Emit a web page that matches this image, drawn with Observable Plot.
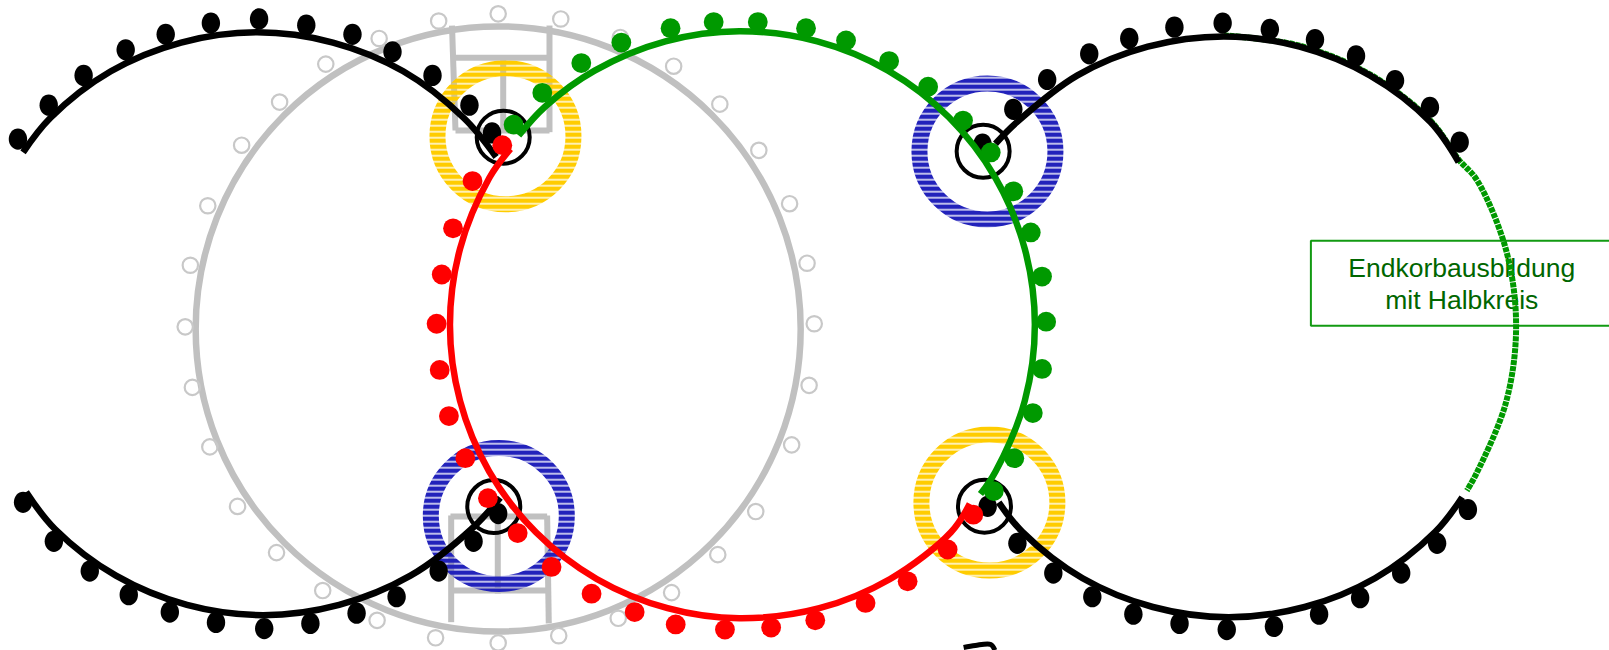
<!DOCTYPE html>
<html><head><meta charset="utf-8">
<style>html,body{margin:0;padding:0;background:#fff;overflow:hidden}</style>
<script src="https://cdn.jsdelivr.net/npm/d3@7"></script>
<script src="https://cdn.jsdelivr.net/npm/@observablehq/plot@0.6"></script>
</head><body><div id="chart"></div>
<script>
const blackTopLeftDots=[[17,135],[47,102],[81,73],[122,48],[161,33],[205,22],[252,18],[298,24],[343,33],[382,50],[421,73],[457,102],[479,129]];
const blackBottomLeftDots=[[22,489],[52,527],[87,556],[125,579],[165,596],[210,606],[257,612],[302,607],[347,597],[386,581],[427,556],[461,527],[485,500]];
const blackTopRightDots=[[957,140],[987,106],[1020,77],[1061,52],[1100,37],[1144,26],[1191,22],[1237,28],[1281,38],[1321,54],[1359,78],[1393,104],[1422,138]];
const blackBottomRightDots=[[962,493],[991,529],[1026,558],[1064,581],[1104,598],[1149,607],[1195,613],[1241,610],[1285,598],[1325,582],[1365,558],[1400,529],[1430,496]];
const greenDots=[[500,121],[528,90],[566,61],[605,41],[653,27],[695,21],[738,21],[785,27],[824,39],[866,59],[904,84],[938,117],[965,148],[987,186],[1004,226],[1015,269],[1019,313],[1015,359],[1006,402],[988,446],[968,478]];
const redDots=[[489,141],[460,176],[441,222],[430,267],[425,315],[428,360],[437,405],[453,446],[475,485],[504,519],[537,552],[576,578],[618,596],[658,608],[706,613],[751,611],[794,604],[843,587],[884,566],[923,535],[948,501]];
const grayDots=[[369,37],[427,20],[485,13],[546,18],[604,36],[656,64],[701,101],[739,146],[769,198],[786,256],[793,315],[788,375],[771,433],[736,498],[699,540],[654,577],[602,602],[544,619],[485,626],[424,621],[367,604],[314,575],[269,538],[231,493],[204,435],[187,377],[180,318],[185,258],[202,200],[235,141],[272,99],[317,62]];

const arcBlackTopLeft=[[22,148],[48.5,114.5],[107.5,69],[176,41],[250,31],[324,41],[392.5,69],[451.5,114.5],[483,152.5]];
const arcBlackBottomLeft=[[25,479],[53,515],[112.5,560.5],[181.7,589],[256,599],[330,589],[399.5,560.5],[459,515],[487,484.5]];
const arcBlackTopRight=[[969.6,139.6],[990.5,118.5],[1049.5,73],[1118,45],[1192,35],[1266,45],[1334.5,73],[1393.5,118.5],[1421,157.5]];
const arcBlackBottomRight=[[972.8,489],[995.5,517.5],[1054.5,563],[1123,591],[1197,601],[1271,591],[1339.5,563],[1398.5,517.5],[1424.5,484]];
const arcGreen=[[505,131.6],[530.6,103.5],[579,68.3],[648,39.8],[720,30],[796,39.8],[865,68.3],[924.2,113.8],[969.7,173],[998.2,242],[1008,316],[998.2,390],[969.7,459],[955,481]];
const arcRed=[[497,144.6],[476.3,173],[447.8,242],[438,316],[447.8,390],[476.3,459],[521.8,518.2],[581,563.7],[650,592.2],[720,602],[798,592.2],[867,563.7],[926.2,518.2],[944.6,490.5]];
const arcGreenDashed=[[1192,34],[1266,44],[1334.5,72],[1393.5,117],[1421,155],[1438.8,175],[1467.3,243.5],[1477,317],[1467.3,391],[1438.8,460],[1429,477.6]];

const bigCircle=[[485,320]];
const yellowRings=[[492.1,132.3],[963.7,489.2]];
const blueRings=[[485.6,502.3],[961.8,147.1]];
const smallCircles=[[489.9,133.2],[480.7,493.1],[958.9,492.8],[957.6,146.9]];

const ladders=[
 [[440,24.4],[443.4,126.7]],[[535,24.4],[535,128.3]],[[443.5,55.9],[534,55.9]],[[489.9,53.6],[489.9,128.3]],[[443.4,126.7],[535,126.7]],
 [[438.5,502.8],[532.7,502.8]],[[438.5,575],[534,575]],[[439.2,501.8],[439.2,605.8]],[[532.7,501.8],[534.3,607]],[[484.6,502.8],[484.6,578]]
];
const labelBox=[[1568,234],[1277,234],[1277,317],[1568,317]];
const labelLines=[["Endkorbausbildung",1424,269.5],["mit Halbkreis",1424,301]];
const cutGlyph=[[938.6,630.5],[950,628.5],[965,627.5],[969,633]];

const X=d=>d[0],Y=d=>d[1];
const ellipse={draw(c,size){
  const r=Math.sqrt(size/Math.PI),rx=r*0.92,ry=r*1.06,k=0.5523;
  c.moveTo(rx,0);
  c.bezierCurveTo(rx,k*ry,k*rx,ry,0,ry);
  c.bezierCurveTo(-k*rx,ry,-rx,k*ry,-rx,0);
  c.bezierCurveTo(-rx,-k*ry,-k*rx,-ry,0,-ry);
  c.bezierCurveTo(k*rx,-ry,rx,-k*ry,rx,0);
  c.closePath();
}};
const arc=(pts,stroke,extra={})=>Plot.line(pts,{x:X,y:Y,stroke,strokeWidth:6.5,curve:"catmull-rom",strokeLinecap:"butt",...extra});
const defs=()=>{
  const d=d3.create("svg:defs");
  d.html(`<pattern id="hatchYellow" patternUnits="userSpaceOnUse" width="8" height="6"><rect width="8" height="4.6" fill="#ffcc00"/></pattern>
  <pattern id="hatchBlue" patternUnits="userSpaceOnUse" width="8" height="6"><rect width="8" height="4.6" fill="#2222bb"/></pattern>`);
  return d.node();
};
const blackSets=[[blackTopLeftDots,arcBlackTopLeft],[blackBottomLeftDots,arcBlackBottomLeft],[blackTopRightDots,arcBlackTopRight],[blackBottomRightDots,arcBlackBottomRight]];

const plot=Plot.plot({
  width:1609,height:650,margin:0,
  x:{domain:[0,1568],axis:null},
  y:{domain:[633.4,0],axis:null},
  style:{background:"#fff"},
  marks:[
    defs,
    Plot.dot(bigCircle,{x:X,y:Y,r:302.5,stroke:"#c0c0c0",strokeWidth:6.5,fill:"none"}),
    ...ladders.map(l=>Plot.line(l,{x:X,y:Y,stroke:"#c0c0c0",strokeWidth:6,strokeLinecap:"butt"})),
    Plot.dot(grayDots,{x:X,y:Y,r:7.7,stroke:"#c8c8c8",strokeWidth:2.2,fill:"none"}),
    Plot.dot(yellowRings,{x:X,y:Y,r:68,stroke:"url(#hatchYellow)",strokeWidth:16,fill:"none"}),
    Plot.dot(blueRings,{x:X,y:Y,r:68,stroke:"url(#hatchBlue)",strokeWidth:16,fill:"none"}),
    Plot.line(labelBox,{x:X,y:Y,stroke:"#129a12",strokeWidth:2,strokeLinecap:"butt",strokeLinejoin:"miter"}),
    Plot.text(labelLines,{x:d=>d[1],y:d=>d[2],text:d=>d[0],fontSize:26.5,fontFamily:"Liberation Sans",fill:"#006600",textAnchor:"middle",lineAnchor:"bottom"}),
    arc(arcGreenDashed,"#009900",{strokeWidth:6,strokeDasharray:"5,1"}),
    ...blackSets.map(s=>arc(s[1],"#000")),
    ...blackSets.map(s=>Plot.dot(s[0],{x:X,y:Y,r:10,symbol:ellipse,fill:"#000"})),
    Plot.dot(smallCircles,{x:X,y:Y,r:26.5,stroke:"#000",strokeWidth:4,fill:"none"}),
    arc(arcGreen,"#009900"),
    Plot.dot(greenDots,{x:X,y:Y,r:9.9,fill:"#009900"}),
    arc(arcRed,"#ff0000"),
    Plot.dot(redDots,{x:X,y:Y,r:9.9,fill:"#ff0000"}),
    Plot.line(cutGlyph,{x:X,y:Y,stroke:"#000",strokeWidth:5,curve:"catmull-rom",strokeLinecap:"butt"})
  ]
});
document.getElementById("chart").append(plot);
</script></body></html>
